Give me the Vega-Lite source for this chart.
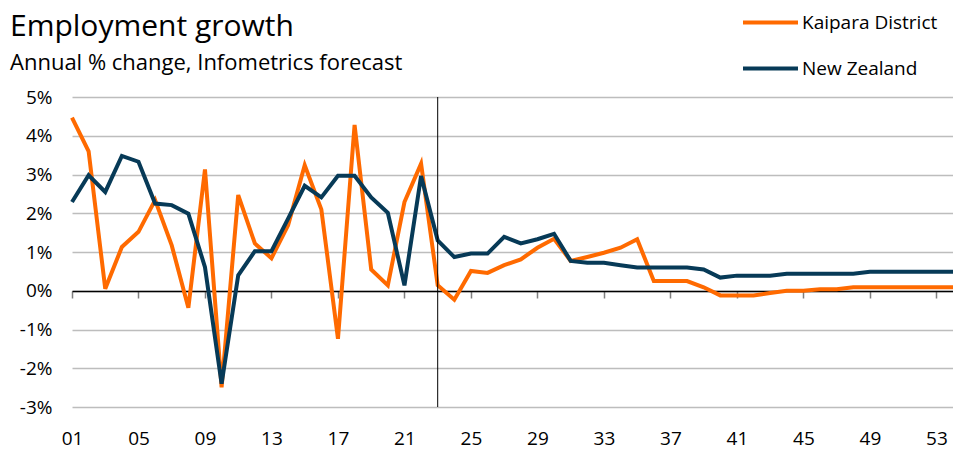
{
  "$schema": "https://vega.github.io/schema/vega-lite/v6.json",
  "width": 881,
  "height": 310,
  "autosize": {"type": "none"},
  "padding": {"left": 72, "top": 97, "right": 0, "bottom": 43},
  "background": "white",
  "title": {
    "text": "Employment growth",
    "subtitle": "Annual % change, Infometrics forecast",
    "anchor": "start",
    "frame": "group",
    "dx": -62,
    "offset": -81,
    "font": "Open Sans",
    "fontSize": 30,
    "fontWeight": "normal",
    "color": "#000000",
    "subtitleFont": "Open Sans",
    "subtitleFontSize": 22,
    "subtitleColor": "#000000",
    "subtitlePadding": 11
  },
  "config": {
    "view": {"stroke": null},
    "font": "Open Sans",
    "axis": {"labelFont": "Open Sans", "labelFontSize": 19, "labelColor": "#000000"}
  },
  "layer": [
    {
      "data": {
        "values": [
          {"year": 2001, "series": "Kaipara District", "value": 4.47},
          {"year": 2002, "series": "Kaipara District", "value": 3.6},
          {"year": 2003, "series": "Kaipara District", "value": 0.05},
          {"year": 2004, "series": "Kaipara District", "value": 1.13},
          {"year": 2005, "series": "Kaipara District", "value": 1.52},
          {"year": 2006, "series": "Kaipara District", "value": 2.34},
          {"year": 2007, "series": "Kaipara District", "value": 1.17},
          {"year": 2008, "series": "Kaipara District", "value": -0.44},
          {"year": 2009, "series": "Kaipara District", "value": 3.13},
          {"year": 2010, "series": "Kaipara District", "value": -2.49},
          {"year": 2011, "series": "Kaipara District", "value": 2.47},
          {"year": 2012, "series": "Kaipara District", "value": 1.22},
          {"year": 2013, "series": "Kaipara District", "value": 0.84},
          {"year": 2014, "series": "Kaipara District", "value": 1.69},
          {"year": 2015, "series": "Kaipara District", "value": 3.24},
          {"year": 2016, "series": "Kaipara District", "value": 2.1},
          {"year": 2017, "series": "Kaipara District", "value": -1.24},
          {"year": 2018, "series": "Kaipara District", "value": 4.28},
          {"year": 2019, "series": "Kaipara District", "value": 0.55},
          {"year": 2020, "series": "Kaipara District", "value": 0.14},
          {"year": 2021, "series": "Kaipara District", "value": 2.29},
          {"year": 2022, "series": "Kaipara District", "value": 3.28},
          {"year": 2023, "series": "Kaipara District", "value": 0.14},
          {"year": 2024, "series": "Kaipara District", "value": -0.23},
          {"year": 2025, "series": "Kaipara District", "value": 0.51},
          {"year": 2026, "series": "Kaipara District", "value": 0.46},
          {"year": 2027, "series": "Kaipara District", "value": 0.66},
          {"year": 2028, "series": "Kaipara District", "value": 0.81},
          {"year": 2029, "series": "Kaipara District", "value": 1.11},
          {"year": 2030, "series": "Kaipara District", "value": 1.34},
          {"year": 2031, "series": "Kaipara District", "value": 0.77},
          {"year": 2032, "series": "Kaipara District", "value": 0.87},
          {"year": 2033, "series": "Kaipara District", "value": 0.98},
          {"year": 2034, "series": "Kaipara District", "value": 1.11},
          {"year": 2035, "series": "Kaipara District", "value": 1.33},
          {"year": 2036, "series": "Kaipara District", "value": 0.25},
          {"year": 2037, "series": "Kaipara District", "value": 0.25},
          {"year": 2038, "series": "Kaipara District", "value": 0.25},
          {"year": 2039, "series": "Kaipara District", "value": 0.09},
          {"year": 2040, "series": "Kaipara District", "value": -0.12},
          {"year": 2041, "series": "Kaipara District", "value": -0.12},
          {"year": 2042, "series": "Kaipara District", "value": -0.12},
          {"year": 2043, "series": "Kaipara District", "value": -0.06},
          {"year": 2044, "series": "Kaipara District", "value": 0.0},
          {"year": 2045, "series": "Kaipara District", "value": 0.0},
          {"year": 2046, "series": "Kaipara District", "value": 0.04},
          {"year": 2047, "series": "Kaipara District", "value": 0.04},
          {"year": 2048, "series": "Kaipara District", "value": 0.09},
          {"year": 2049, "series": "Kaipara District", "value": 0.09},
          {"year": 2050, "series": "Kaipara District", "value": 0.09},
          {"year": 2051, "series": "Kaipara District", "value": 0.09},
          {"year": 2052, "series": "Kaipara District", "value": 0.09},
          {"year": 2053, "series": "Kaipara District", "value": 0.09},
          {"year": 2054, "series": "Kaipara District", "value": 0.09},
          {"year": 2001, "series": "New Zealand", "value": 2.29},
          {"year": 2002, "series": "New Zealand", "value": 2.98},
          {"year": 2003, "series": "New Zealand", "value": 2.55},
          {"year": 2004, "series": "New Zealand", "value": 3.48},
          {"year": 2005, "series": "New Zealand", "value": 3.33},
          {"year": 2006, "series": "New Zealand", "value": 2.25},
          {"year": 2007, "series": "New Zealand", "value": 2.21},
          {"year": 2008, "series": "New Zealand", "value": 1.99},
          {"year": 2009, "series": "New Zealand", "value": 0.61},
          {"year": 2010, "series": "New Zealand", "value": -2.4},
          {"year": 2011, "series": "New Zealand", "value": 0.4},
          {"year": 2012, "series": "New Zealand", "value": 1.02},
          {"year": 2013, "series": "New Zealand", "value": 1.02},
          {"year": 2014, "series": "New Zealand", "value": 1.86},
          {"year": 2015, "series": "New Zealand", "value": 2.71},
          {"year": 2016, "series": "New Zealand", "value": 2.41},
          {"year": 2017, "series": "New Zealand", "value": 2.97},
          {"year": 2018, "series": "New Zealand", "value": 2.97},
          {"year": 2019, "series": "New Zealand", "value": 2.41},
          {"year": 2020, "series": "New Zealand", "value": 2.01},
          {"year": 2021, "series": "New Zealand", "value": 0.14},
          {"year": 2022, "series": "New Zealand", "value": 2.96},
          {"year": 2023, "series": "New Zealand", "value": 1.3},
          {"year": 2024, "series": "New Zealand", "value": 0.87},
          {"year": 2025, "series": "New Zealand", "value": 0.96},
          {"year": 2026, "series": "New Zealand", "value": 0.96},
          {"year": 2027, "series": "New Zealand", "value": 1.39},
          {"year": 2028, "series": "New Zealand", "value": 1.22},
          {"year": 2029, "series": "New Zealand", "value": 1.33},
          {"year": 2030, "series": "New Zealand", "value": 1.47},
          {"year": 2031, "series": "New Zealand", "value": 0.77},
          {"year": 2032, "series": "New Zealand", "value": 0.72},
          {"year": 2033, "series": "New Zealand", "value": 0.72},
          {"year": 2034, "series": "New Zealand", "value": 0.66},
          {"year": 2035, "series": "New Zealand", "value": 0.6},
          {"year": 2036, "series": "New Zealand", "value": 0.6},
          {"year": 2037, "series": "New Zealand", "value": 0.6},
          {"year": 2038, "series": "New Zealand", "value": 0.6},
          {"year": 2039, "series": "New Zealand", "value": 0.55},
          {"year": 2040, "series": "New Zealand", "value": 0.34},
          {"year": 2041, "series": "New Zealand", "value": 0.39},
          {"year": 2042, "series": "New Zealand", "value": 0.39},
          {"year": 2043, "series": "New Zealand", "value": 0.39},
          {"year": 2044, "series": "New Zealand", "value": 0.44},
          {"year": 2045, "series": "New Zealand", "value": 0.44},
          {"year": 2046, "series": "New Zealand", "value": 0.44},
          {"year": 2047, "series": "New Zealand", "value": 0.44},
          {"year": 2048, "series": "New Zealand", "value": 0.44},
          {"year": 2049, "series": "New Zealand", "value": 0.49},
          {"year": 2050, "series": "New Zealand", "value": 0.49},
          {"year": 2051, "series": "New Zealand", "value": 0.49},
          {"year": 2052, "series": "New Zealand", "value": 0.49},
          {"year": 2053, "series": "New Zealand", "value": 0.49},
          {"year": 2054, "series": "New Zealand", "value": 0.49}
        ]
      },
      "mark": {"type": "line", "strokeWidth": 4, "strokeJoin": "miter", "clip": false},
      "encoding": {
        "x": {
          "field": "year",
          "type": "quantitative",
          "scale": {"domain": [2001, 2054], "nice": false, "zero": false},
          "axis": {
            "orient": "bottom",
            "title": null,
            "values": [2001, 2005, 2009, 2013, 2017, 2021, 2025, 2029, 2033, 2037, 2041, 2045, 2049, 2053],
            "format": "d",
            "labelExpr": "slice(datum.label, 2)",
            "domain": false,
            "ticks": false,
            "grid": false,
            "labelPadding": 22,
            "labelFlush": false,
            "labelOverlap": false
          }
        },
        "y": {
          "field": "value",
          "type": "quantitative",
          "scale": {"domain": [-3, 5], "nice": false},
          "axis": {
            "title": null,
            "values": [-3, -2, -1, 0, 1, 2, 3, 4, 5],
            "labelExpr": "datum.value + '%'",
            "domain": false,
            "ticks": false,
            "grid": true,
            "gridColor": "#BDBDBD",
            "gridWidth": 1.5,
            "labelPadding": 20
          }
        },
        "color": {
          "field": "series",
          "type": "nominal",
          "scale": {"domain": ["Kaipara District", "New Zealand"], "range": ["#FF6A00", "#073A57"]},
          "legend": {
            "title": null,
            "orient": "none",
            "legendX": 669,
            "legendY": -104,
            "direction": "vertical",
            "symbolType": "stroke",
            "symbolSize": 3025,
            "symbolStrokeWidth": 4,
            "labelFont": "Open Sans",
            "labelFontSize": 19,
            "labelColor": "#000000",
            "labelOffset": 2,
            "rowPadding": 6
          }
        }
      }
    },
    {
      "data": {"values": [{"year": 2023}]},
      "mark": {"type": "rule", "color": "#000000", "strokeWidth": 1},
      "encoding": {
        "x": {
          "field": "year",
          "type": "quantitative",
          "axis": {
            "orient": "bottom",
            "offset": -116,
            "title": null,
            "values": [2001, 2005, 2009, 2013, 2017, 2021, 2025, 2029, 2033, 2037, 2041, 2045, 2049, 2053],
            "labels": false,
            "domain": true,
            "domainColor": "#000000",
            "domainWidth": 1.5,
            "ticks": true,
            "tickColor": "#7F7F7F",
            "tickWidth": 1.5,
            "tickSize": 7,
            "grid": false
          }
        }
      }
    }
  ],
  "resolve": {"axis": {"x": "independent"}}
}
